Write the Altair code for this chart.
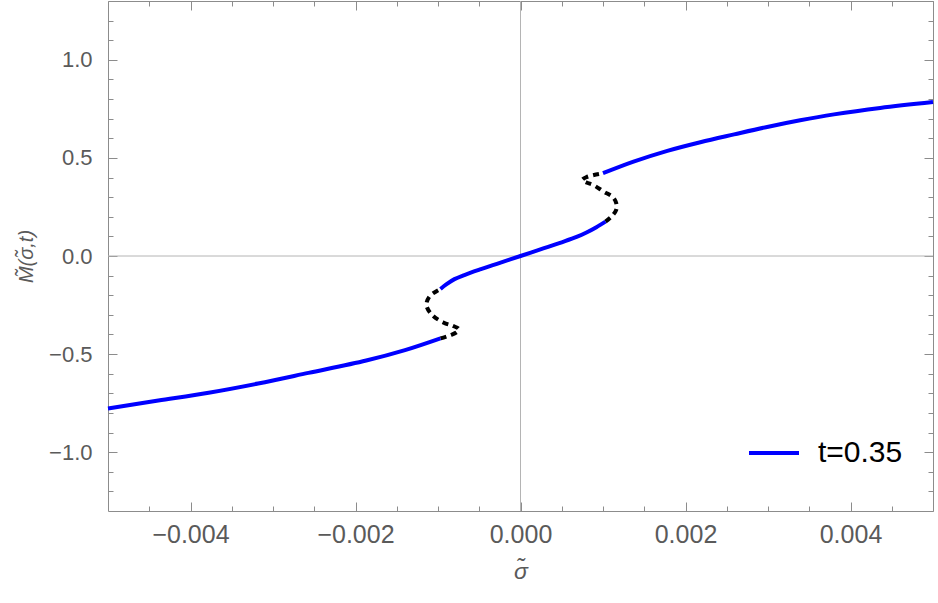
import altair as alt
import pandas as pd

# ---- data ----
lower_sigma = [-0.00500, -0.00439, -0.00378, -0.00318, -0.00257, -0.00187, -0.00140, -0.00097]
lower_M     = [-0.777, -0.737, -0.697, -0.650, -0.596, -0.533, -0.480, -0.420]

lower_u_sigma = [-0.00097, -0.00086, -0.00077, -0.00075, -0.00082, -0.00093, -0.00107, -0.00114, -0.00110, -0.00097]
lower_u_M     = [-0.420, -0.405, -0.388, -0.372, -0.356, -0.340, -0.301, -0.250, -0.205, -0.168]

center_sigma = [-0.00097, -0.00090, -0.00080, -0.00068, -0.00050, -0.00025, 0.0,
                0.00025, 0.00050, 0.00068, 0.00080, 0.00092, 0.00103]
center_M     = [-0.168, -0.145, -0.118, -0.097, -0.070, -0.035, 0.0,
                0.035, 0.070, 0.097, 0.120, 0.147, 0.175]

upper_u_sigma = [0.00103, 0.00110, 0.00116, 0.00116, 0.00112, 0.00101, 0.00089, 0.00080, 0.00075, 0.00080, 0.00089, 0.00100]
upper_u_M     = [0.175, 0.200, 0.235, 0.270, 0.300, 0.328, 0.360, 0.375, 0.388, 0.402, 0.413, 0.422]

upper_sigma = [0.00100, 0.00137, 0.00178, 0.00218, 0.00259, 0.00299, 0.00339, 0.00380, 0.00436, 0.00500]
upper_M     = [0.422, 0.481, 0.536, 0.580, 0.620, 0.658, 0.692, 0.722, 0.755, 0.785]

legend_label = "t=0.35"

x_major = [-0.004, -0.002, 0.0, 0.002, 0.004]
x_minor = [-0.0045, -0.0035, -0.003, -0.0025, -0.0015, -0.001, -0.0005,
           0.0005, 0.001, 0.0015, 0.0025, 0.003, 0.0035, 0.0045]
y_major = [-1.0, -0.5, 0.0, 0.5, 1.0]
y_minor = [-1.2, -1.1, -0.9, -0.8, -0.7, -0.6, -0.4, -0.3, -0.2, -0.1,
           0.1, 0.2, 0.3, 0.4, 0.6, 0.7, 0.8, 0.9, 1.1, 1.2]

# ---- build table ----
rows = []
for seg, kind, xs_, ys_ in [
    ("lower", "stable", lower_sigma, lower_M),
    ("lower_u", "unstable", lower_u_sigma, lower_u_M),
    ("center", "stable", center_sigma, center_M),
    ("upper_u", "unstable", upper_u_sigma, upper_u_M),
    ("upper", "stable", upper_sigma, upper_M),
]:
    for i, (a, b) in enumerate(zip(xs_, ys_)):
        rows.append({"sigma": a, "M": b, "seg": seg, "kind": kind, "i": i, "label": legend_label})
df = pd.DataFrame(rows)

W, H = 825, 510
XDOM = [-0.005, 0.005]
YDOM = [-1.3, 1.3]
FRAME = "#8c8c8c"
TXT = "#5a5a5a"
FONT = "Liberation Sans"

xs = alt.Scale(domain=XDOM, nice=False, zero=False)
ys = alt.Scale(domain=YDOM, nice=False, zero=False)

def tick_layer(xaxis, yaxis):
    return alt.Chart(df).mark_point(opacity=0).encode(
        x=alt.X("sigma:Q", scale=xs, axis=xaxis),
        y=alt.Y("M:Q", scale=ys, axis=yaxis),
    )

label_layer = tick_layer(
    alt.Axis(orient="bottom", values=x_major, format=".3f", ticks=False, grid=False,
             domainColor=FRAME, labelFont=FONT, labelFontSize=25, labelColor=TXT,
             labelPadding=11, title="σ̃", titleFont=FONT, titleFontSize=23,
             titleColor=TXT, titleFontWeight="normal", titleFontStyle="italic", titlePadding=13),
    alt.Axis(orient="left", values=y_major, format=".1f", ticks=False, grid=False,
             domainColor=FRAME, labelFont=FONT, labelFontSize=22, labelColor=TXT,
             labelPadding=16, title="M̃(σ̃,t)", titleFont=FONT, titleFontSize=20,
             titleColor=TXT, titleFontWeight="normal", titleFontStyle="italic", titlePadding=12),
)

def inner_ticks(xvals, yvals, size, bottom_left):
    if bottom_left:
        xa = alt.Axis(orient="top", offset=-H, values=xvals, labels=False, title=None, grid=False,
                      domain=False, tickColor=FRAME, tickSize=size)
        ya = alt.Axis(orient="right", offset=-W, values=yvals, labels=False, title=None, grid=False,
                      domain=False, tickColor=FRAME, tickSize=size)
    else:
        xa = alt.Axis(orient="bottom", offset=-H, values=xvals, labels=False, title=None, grid=False,
                      domain=True, domainColor=FRAME, tickColor=FRAME, tickSize=size)
        ya = alt.Axis(orient="left", offset=-W, values=yvals, labels=False, title=None, grid=False,
                      domain=True, domainColor=FRAME, tickColor=FRAME, tickSize=size)
    return tick_layer(xa, ya)

t1 = inner_ticks(x_major, y_major, 9, True)
t2 = inner_ticks(x_minor, y_minor, 5, True)
t3 = inner_ticks(x_major, y_major, 9, False)
t4 = inner_ticks(x_minor, y_minor, 5, False)

zero_x = pd.DataFrame({"v": [0.0]})
zero_y = pd.DataFrame({"v": [0.0]})
vline = alt.Chart(zero_x).mark_rule(color="#b4b4b4", strokeWidth=1).encode(
    x=alt.X("v:Q", scale=xs, axis=None))
hline = alt.Chart(zero_y).mark_rule(color="#b4b4b4", strokeWidth=1).encode(
    y=alt.Y("v:Q", scale=ys, axis=None))

dashed = alt.Chart(df).transform_filter(alt.datum.kind == "unstable").mark_line(
    color="black", strokeWidth=4, strokeDash=[6, 5], interpolate="catmull-rom"
).encode(
    x=alt.X("sigma:Q", scale=xs, axis=None),
    y=alt.Y("M:Q", scale=ys, axis=None),
    detail="seg:N",
    order="i:Q",
)

blue = alt.Chart(df).transform_filter(alt.datum.kind == "stable").mark_line(
    strokeWidth=4, interpolate="catmull-rom"
).encode(
    x=alt.X("sigma:Q", scale=xs, axis=None),
    y=alt.Y("M:Q", scale=ys, axis=None),
    detail="seg:N",
    order="i:Q",
    color=alt.Color("label:N", scale=alt.Scale(domain=[legend_label], range=["#0000ff"]),
                    legend=alt.Legend(orient="none", legendX=639, legendY=425, title=None,
                                      symbolType="stroke", symbolSize=2500, symbolStrokeWidth=4,
                                      labelFont=FONT, labelFontSize=30, labelColor="black",
                                      labelOffset=17, padding=0)),
)

chart = alt.layer(label_layer, t1, t2, t3, t4, vline, hline, dashed, blue).resolve_axis(
    x="independent", y="independent"
).properties(
    width=W, height=H,
    autosize=alt.AutoSizeParams(type="none"),
    padding={"left": 108, "top": 1, "right": 5, "bottom": 92},
    background="white",
).configure_view(stroke=None)

chart.save("out.html", embed_options={"renderer": "svg", "actions": False})
